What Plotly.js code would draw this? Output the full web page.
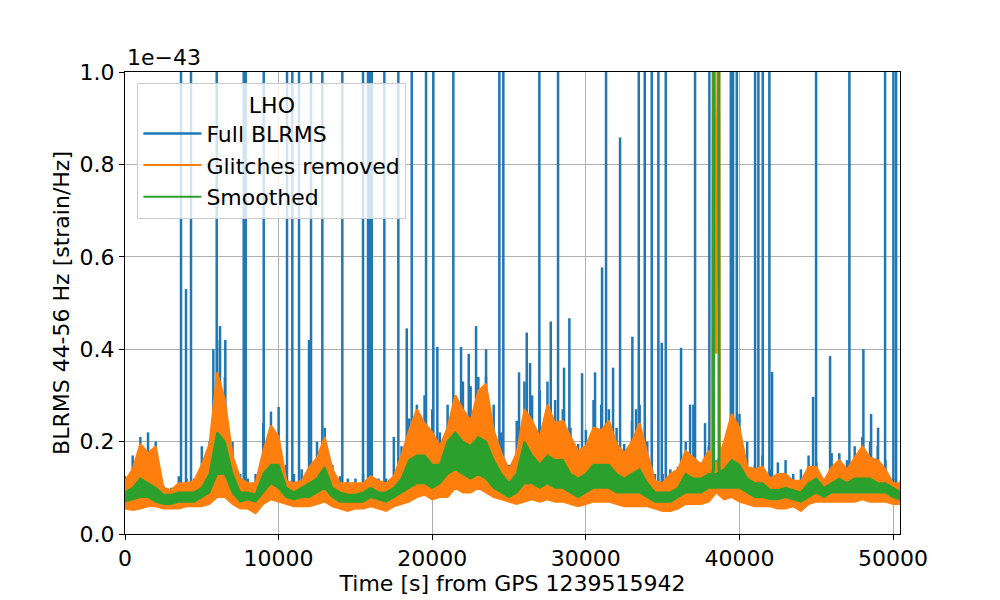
<!DOCTYPE html>
<html>
<head>
<meta charset="utf-8">
<script src="https://cdn.plot.ly/plotly-3.0.1.min.js"></script>
<style>body { margin: 0; background: white; }</style>
</head>
<body>
<div id="plot" style="width:1000px;height:600px"></div>
<script>
// time grid [s] from GPS 1239515942, values in units of 1e-43
let times = [0, 500, 1000, 1500, 2000, 2500, 3000, 3500, 4000, 4500,
    5000, 5500, 6000, 6500, 7000, 7500, 8000, 8500, 9000, 9500,
    10000, 10500, 11000, 11500, 12000, 12500, 13000, 13500, 14000, 14500,
    15000, 15500, 16000, 16500, 17000, 17500, 18000, 18500, 19000, 19500,
    20000, 20500, 21000, 21500, 22000, 22500, 23000, 23500, 24000, 24500,
    25000, 25500, 26000, 26500, 27000, 27500, 28000, 28500, 29000, 29500,
    30000, 30500, 31000, 31500, 32000, 32500, 33000, 33500, 34000, 34500,
    35000, 35500, 36000, 36500, 37000, 37500, 38000, 38500, 39000, 39500,
    40000, 40500, 41000, 41500, 42000, 42500, 43000, 43500, 44000, 44500,
    45000, 45500, 46000, 46500, 47000, 47500, 48000, 48500, 49000, 49500,
    50000, 50500];

let glitch_low = [0.055, 0.052, 0.055, 0.06, 0.06, 0.055, 0.055, 0.055, 0.06, 0.06,
    0.06, 0.065, 0.08, 0.08, 0.065, 0.055, 0.055, 0.045, 0.065, 0.075,
    0.07, 0.065, 0.06, 0.06, 0.06, 0.065, 0.07, 0.06, 0.055, 0.05,
    0.055, 0.055, 0.06, 0.055, 0.05, 0.06, 0.065, 0.07, 0.08, 0.085,
    0.075, 0.08, 0.08, 0.10, 0.09, 0.09, 0.10, 0.09, 0.08, 0.075,
    0.07, 0.065, 0.07, 0.075, 0.07, 0.075, 0.07, 0.07, 0.065, 0.06,
    0.065, 0.07, 0.07, 0.07, 0.065, 0.06, 0.06, 0.06, 0.06, 0.055,
    0.05, 0.05, 0.055, 0.065, 0.065, 0.065, 0.07, 0.09, 0.075, 0.08,
    0.07, 0.065, 0.06, 0.06, 0.06, 0.055, 0.055, 0.06, 0.05, 0.065,
    0.07, 0.07, 0.07, 0.07, 0.07, 0.07, 0.075, 0.07, 0.07, 0.07,
    0.065, 0.065];

let glitch_high = [0.115, 0.14, 0.195, 0.175, 0.19, 0.10, 0.095, 0.11, 0.11, 0.115,
    0.15, 0.195, 0.35, 0.29, 0.17, 0.12, 0.11, 0.11, 0.18, 0.235,
    0.21, 0.115, 0.11, 0.115, 0.145, 0.165, 0.21, 0.14, 0.11, 0.11,
    0.11, 0.11, 0.125, 0.115, 0.11, 0.125, 0.17, 0.225, 0.27, 0.24,
    0.22, 0.19, 0.23, 0.30, 0.27, 0.245, 0.31, 0.325, 0.225, 0.175,
    0.14, 0.175, 0.27, 0.245, 0.21, 0.28, 0.24, 0.245, 0.21, 0.18,
    0.19, 0.23, 0.225, 0.245, 0.195, 0.175, 0.20, 0.24, 0.175, 0.115,
    0.11, 0.13, 0.14, 0.18, 0.165, 0.15, 0.18, 0.15, 0.20, 0.26,
    0.23, 0.145, 0.14, 0.145, 0.12, 0.13, 0.13, 0.115, 0.115, 0.145,
    0.145, 0.115, 0.145, 0.16, 0.14, 0.165, 0.19, 0.165, 0.16, 0.14,
    0.11, 0.11];

let smooth_low = [0.07, 0.075, 0.08, 0.08, 0.07, 0.065, 0.065, 0.07, 0.07, 0.07,
    0.08, 0.09, 0.13, 0.13, 0.09, 0.07, 0.075, 0.07, 0.09, 0.11,
    0.10, 0.08, 0.075, 0.08, 0.08, 0.09, 0.10, 0.08, 0.07, 0.07,
    0.07, 0.07, 0.08, 0.075, 0.07, 0.08, 0.09, 0.10, 0.11, 0.11,
    0.10, 0.11, 0.13, 0.14, 0.13, 0.12, 0.13, 0.12, 0.10, 0.09,
    0.08, 0.09, 0.11, 0.11, 0.10, 0.11, 0.10, 0.10, 0.09, 0.08,
    0.09, 0.10, 0.10, 0.10, 0.09, 0.09, 0.09, 0.09, 0.08, 0.07,
    0.07, 0.07, 0.08, 0.09, 0.09, 0.09, 0.10, 0.10, 0.10, 0.10,
    0.10, 0.09, 0.08, 0.08, 0.075, 0.075, 0.08, 0.075, 0.07, 0.08,
    0.09, 0.08, 0.09, 0.09, 0.09, 0.09, 0.09, 0.09, 0.09, 0.09,
    0.08, 0.075];

let smooth_high = [0.09, 0.10, 0.12, 0.11, 0.10, 0.085, 0.085, 0.09, 0.09, 0.09,
    0.10, 0.13, 0.22, 0.20, 0.13, 0.09, 0.09, 0.085, 0.13, 0.15,
    0.15, 0.10, 0.09, 0.10, 0.11, 0.12, 0.145, 0.10, 0.09, 0.085,
    0.085, 0.09, 0.10, 0.09, 0.09, 0.10, 0.12, 0.16, 0.17, 0.17,
    0.15, 0.15, 0.20, 0.22, 0.20, 0.19, 0.21, 0.20, 0.16, 0.13,
    0.11, 0.13, 0.20, 0.17, 0.15, 0.17, 0.16, 0.16, 0.13, 0.12,
    0.13, 0.15, 0.15, 0.15, 0.13, 0.12, 0.13, 0.14, 0.11, 0.09,
    0.09, 0.09, 0.10, 0.13, 0.12, 0.12, 0.13, 0.13, 0.14, 0.16,
    0.15, 0.12, 0.11, 0.11, 0.095, 0.095, 0.10, 0.095, 0.09, 0.11,
    0.12, 0.10, 0.11, 0.12, 0.11, 0.12, 0.12, 0.12, 0.11, 0.11,
    0.10, 0.09];

let full_high = [0.125, 0.17, 0.21, 0.22, 0.20, 0.105, 0.10, 0.125, 0.12, 0.12,
    0.19, 0.20, 0.42, 0.34, 0.20, 0.13, 0.12, 0.13, 0.24, 0.265,
    0.275, 0.15, 0.13, 0.14, 0.16, 0.20, 0.23, 0.15, 0.125, 0.12,
    0.12, 0.13, 0.14, 0.12, 0.12, 0.21, 0.19, 0.25, 0.28, 0.30,
    0.27, 0.22, 0.28, 0.30, 0.33, 0.32, 0.34, 0.34, 0.28, 0.22,
    0.15, 0.245, 0.33, 0.30, 0.31, 0.33, 0.29, 0.27, 0.23, 0.195,
    0.225, 0.29, 0.28, 0.27, 0.23, 0.195, 0.245, 0.28, 0.20, 0.13,
    0.13, 0.14, 0.145, 0.20, 0.28, 0.155, 0.19, 0.16, 0.20, 0.30,
    0.26, 0.20, 0.15, 0.17, 0.14, 0.155, 0.16, 0.13, 0.14, 0.17,
    0.155, 0.12, 0.175, 0.175, 0.16, 0.19, 0.21, 0.20, 0.19, 0.16,
    0.12, 0.115];

// glitches in the full BLRMS (1.5 = off the top of the plot)
let spike_times = [3646, 3971, 4297, 5750, 5970, 6185, 6530, 7728, 7858, 9030,
    10547, 10892, 11328, 11979, 12109, 12845, 14147, 15495, 15820, 15950,
    16061, 16882, 17793, 18340, 18665, 19596, 20072, 20332, 21374, 21875,
    22376, 22852, 23503, 24369, 24629, 25651, 26152, 26367, 26973, 27715,
    28190, 28581, 28926, 29753, 30599, 31055, 31315, 31771, 32227, 33027,
    33268, 33444, 33835, 34290, 34720, 34941, 35202, 36198, 36784, 37109,
    37760, 38040, 39434, 39583, 39824, 41016, 41231, 41517, 41947, 42122,
    44792, 44987, 45898, 47155, 48066, 48568, 49023, 49479, 50020, 50195];
let spike_heights = [1.5, 0.53, 1.5, 0.40, 1.5, 0.45, 0.42, 1.5, 1.5, 1.5,
    1.5, 1.5, 1.5, 0.42, 1.5, 1.5, 1.5, 1.5, 1.5, 1.5,
    1.5, 1.5, 1.5, 0.445, 1.5, 1.5, 1.5, 0.405, 1.5, 0.405,
    0.39, 0.45, 0.40, 1.5, 1.5, 0.35, 0.436, 0.37, 1.5, 0.46,
    1.5, 0.36, 0.467, 0.348, 0.35, 0.577, 1.5, 0.36, 0.858, 0.427,
    0.27, 1.5, 1.5, 1.5, 1.5, 0.414, 1.5, 0.403, 0.28, 1.5,
    0.24, 1.5, 1.5, 1.5, 1.5, 1.5, 1.5, 1.5, 1.5, 0.351,
    0.297, 1.5, 0.385, 1.5, 0.40, 0.26, 0.23, 1.5, 1.5, 1.5];

// the one glitch that survives removal and smoothing
let big_glitch_times_orange = [38200, 38260, 38300, 38480, 38660, 38700, 38800];
let big_glitch_orange = [0.12, 0.71, 1.5, 0.39, 1.5, 0.2, 0.12];
let big_glitch_times_green = [38200, 38310, 38330, 38480, 38650, 38670, 38800];
let big_glitch_green = [0.12, 0.14, 1.5, 1.5, 1.5, 0.14, 0.12];

let x_ticks = [0, 10000, 20000, 30000, 40000, 50000];
let x_labels = ['0', '10000', '20000', '30000', '40000', '50000'];
let y_ticks = [0, 0.2, 0.4, 0.6, 0.8, 1.0];
let y_labels = ['0.0', '0.2', '0.4', '0.6', '0.8', '1.0'];

let blue = '#1f77b4';
let orange = '#ff7f0e';
let green = '#2ca02c';

// full BLRMS: the noisy top of the band plus the glitches, as vertical strokes
let full_x = [];
let full_y = [];
for (let i = 0; i < times.length; ++i) {
    full_x.push(times[i], times[i], null);
    full_y.push(smooth_low[i], full_high[i], null);
}
for (let i = 0; i < spike_times.length; ++i) {
    full_x.push(spike_times[i], spike_times[i], null);
    full_y.push(0.1, spike_heights[i], null);
}

let data = [
    { x: full_x, y: full_y, mode: 'lines', line: { color: blue, width: 2.5 }, name: 'Full BLRMS' },
    { x: times, y: glitch_high, mode: 'lines', line: { color: orange, width: 2 }, name: 'Glitches removed' },
    { x: times, y: glitch_low, mode: 'lines', line: { color: orange, width: 2 }, fill: 'tonexty', fillcolor: orange, showlegend: false },
    { x: big_glitch_times_orange, y: big_glitch_orange, mode: 'lines', line: { color: orange, width: 2.5 }, showlegend: false },
    { x: times, y: smooth_high, mode: 'lines', line: { color: green, width: 2 }, name: 'Smoothed' },
    { x: times, y: smooth_low, mode: 'lines', line: { color: green, width: 2 }, fill: 'tonexty', fillcolor: green, showlegend: false },
    { x: big_glitch_times_green, y: big_glitch_green, mode: 'lines', line: { color: green, width: 3 }, showlegend: false }
];

let axis_common = {
    showline: true, mirror: true, linecolor: 'black', linewidth: 1,
    ticks: 'outside', ticklen: 5, tickcolor: 'black', tickwidth: 1,
    showgrid: true, gridcolor: '#b0b0b0', gridwidth: 1, zeroline: false,
    tickfont: { size: 22 }
};

let layout = {
    width: 1000,
    height: 600,
    margin: { l: 125, r: 100, t: 72, b: 66 },
    paper_bgcolor: 'white',
    plot_bgcolor: 'white',
    font: { family: 'DejaVu Sans', size: 22, color: 'black' },
    showlegend: true,
    legend: {
        x: 0.016, y: 0.976, xanchor: 'left', yanchor: 'top',
        traceorder: 'normal',
        itemwidth: 58,
        bgcolor: 'rgba(255,255,255,0.8)', bordercolor: '#cccccc', borderwidth: 1,
        title: { text: 'LHO', side: 'top center', font: { size: 22 } },
        font: { size: 22 }
    },
    xaxis: Object.assign({}, axis_common, {
        range: [0, 50450], tickmode: 'array', tickvals: x_ticks, ticktext: x_labels,
        title: { text: 'Time [s] from GPS 1239515942', font: { size: 22 }, standoff: 0 }
    }),
    yaxis: Object.assign({}, axis_common, {
        range: [0, 1], tickmode: 'array', tickvals: y_ticks, ticktext: y_labels,
        title: { text: 'BLRMS 44-56 Hz [strain/Hz]', font: { size: 22 }, standoff: 3 }
    }),
    annotations: [
        { text: '1e\u221243', xref: 'paper', yref: 'paper', x: 0, y: 1, xanchor: 'left', yanchor: 'bottom', showarrow: false, font: { size: 22 } }
    ]
};

Plotly.newPlot('plot', data, layout, { staticPlot: true });
</script>
</body>
</html>
